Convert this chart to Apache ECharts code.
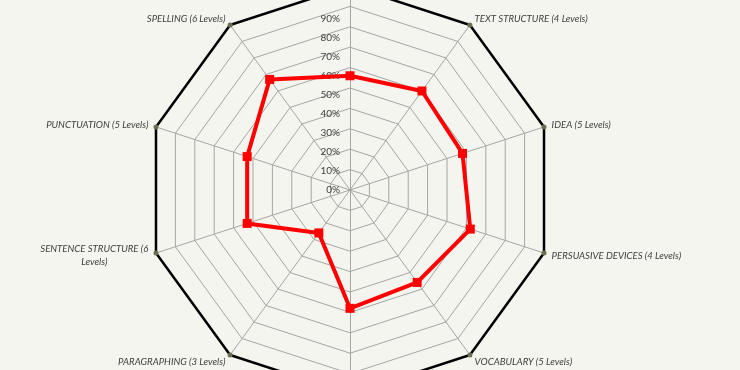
<!DOCTYPE html>
<html>
<head>
<meta charset="utf-8">
<script src="https://cdn.jsdelivr.net/npm/echarts@6/dist/echarts.min.js"></script>
<style>
html,body{margin:0;padding:0;background:#f3f5ee;}
#c{width:740px;height:370px;}
</style>
</head>
<body>
<div id="c"></div>
<script>
// Indicators, listed counter-clockwise starting at the top
var categories = [
  'AUDIENCE (6 Levels)',
  'SPELLING (6 Levels)',
  'PUNCTUATION (5 Levels)',
  'SENTENCE STRUCTURE (6 Levels)',
  'PARAGRAPHING (3 Levels)',
  'COHESION (4 Levels)',
  'VOCABULARY (5 Levels)',
  'PERSUASIVE DEVICES (4 Levels)',
  'IDEA (5 Levels)',
  'TEXT STRUCTURE (4 Levels)'
];
var scores = [56, 67, 53, 53, 26, 58, 56, 62, 58, 60];
var maxLevel = [100, 100, 100, 100, 100, 100, 100, 100, 100, 100];
var tickValues = [0, 10, 20, 30, 40, 50, 60, 70, 80, 90];

var FONT = 'Lato, "Open Sans", sans-serif';
var chart = echarts.init(document.getElementById('c'), null, {renderer: 'canvas'});
chart.setOption({
  backgroundColor: '#f3f5ee',
  animation: false,
  radar: {
    center: [350, 190],
    radius: 204,
    startAngle: 90,
    shape: 'polygon',
    splitNumber: 10,
    nameGap: 8,
    indicator: categories.map(function (n) { return {name: n, min: 0, max: 100}; }),
    axisName: {
      color: '#404040',
      fontStyle: 'italic',
      fontFamily: FONT,
      fontSize: 9.6,
      formatter: function (name) {
        if (name === 'SENTENCE STRUCTURE (6 Levels)') {
          return '{c|SENTENCE STRUCTURE (6}\n{c|Levels)}';
        }
        return name;
      },
      rich: {
        c: {align: 'center', color: '#404040', fontStyle: 'italic', fontFamily: FONT, fontSize: 9.6, lineHeight: 13}
      }
    },
    splitLine: {lineStyle: {color: '#a6a6a6', width: 1}},
    splitArea: {show: false},
    axisLine: {lineStyle: {color: '#a6a6a6', width: 1}}
  },
  grid: {left: 350, top: -14, width: 10, height: 204, containLabel: false},
  xAxis: {type: 'value', show: false, min: 0, max: 1},
  yAxis: {
    type: 'value', min: 0, max: 100, interval: 10,
    axisLine: {show: false}, axisTick: {show: false}, splitLine: {show: false},
    axisLabel: {
      margin: 10, color: '#404040', fontFamily: FONT, fontSize: 10,
      formatter: function (v) { return tickValues.indexOf(v) >= 0 ? v + '%' : ''; }
    }
  },
  series: [
    {
      type: 'radar',
      z: 2,
      symbol: 'circle',
      symbolSize: 5,
      itemStyle: {color: '#6b7052'},
      lineStyle: {color: '#000000', width: 2.5},
      data: [{value: maxLevel}]
    },
    {
      type: 'radar',
      z: 3,
      symbol: 'rect',
      symbolSize: 9,
      itemStyle: {color: '#ff0000'},
      lineStyle: {color: '#ff0000', width: 4},
      data: [{value: scores}]
    }
  ]
});
</script>
</body>
</html>
